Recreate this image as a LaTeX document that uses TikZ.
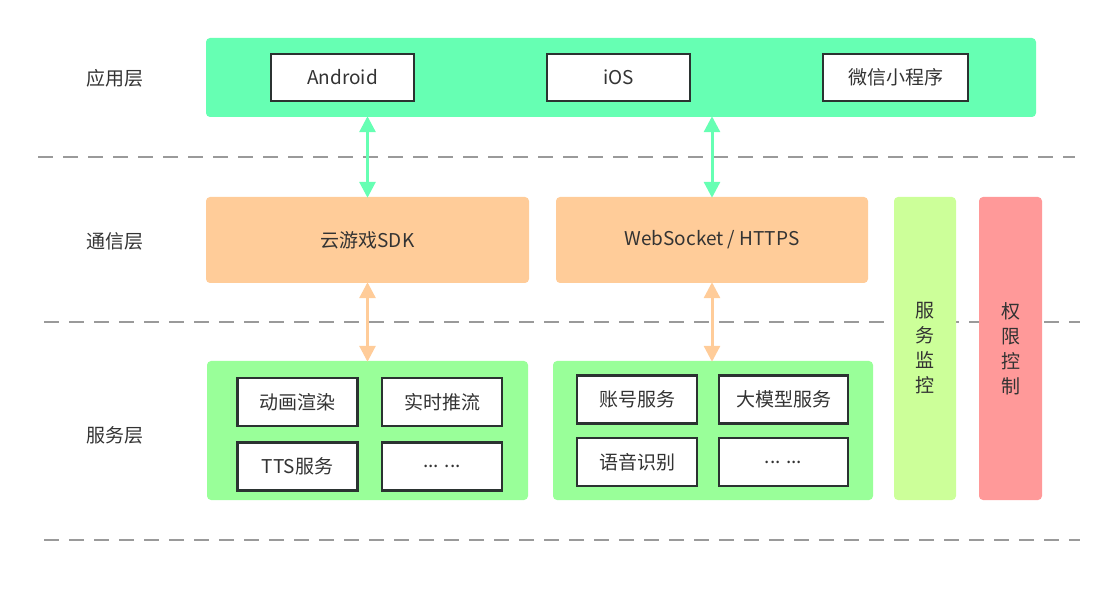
\documentclass[tikz,border=0pt]{standalone}
\usepackage{fontspec}
\setmainfont{Noto Sans CJK SC}
\usepackage{xcolor}
\usepackage{tikz}
\usetikzlibrary{arrows.meta}

\definecolor{appgreen}{HTML}{66FFB3}
\definecolor{commpeach}{HTML}{FFCC99}
\definecolor{svcgreen}{HTML}{99FF99}
\definecolor{monlime}{HTML}{CCFF99}
\definecolor{authred}{HTML}{FF9999}
\definecolor{boxline}{HTML}{2B3331}
\definecolor{txtgray}{HTML}{333333}
\definecolor{dashgray}{HTML}{9A9A9A}

\tikzset{
  layer/.style={rounded corners=4pt, inner sep=0pt, text=txtgray},
  item/.style={draw=boxline, line width=2.8pt, fill=white, inner sep=0pt, text=txtgray},
  sep/.style={draw=dashgray, line width=2pt, dash pattern=on 15pt off 10pt},
  link/.style={line width=3pt, {Triangle[width=16pt,length=16pt]}-{Triangle[width=16pt,length=16pt]}, shorten <=-1pt, shorten >=-1pt}
}

\begin{document}
\begin{tikzpicture}[x=1pt, y=-1pt, font=\fontsize{19}{25}\selectfont]
\useasboundingbox (0,0) rectangle (1117,593);

\newcommand{\Itemw}{120pt}; % service box width
\newcommand{\Itemh}{48pt}; % service box height

% dashed separators
\coordinate (SepAL) at (38, 157);
\coordinate (SepAR) at (1075, 157);
\coordinate (SepBL) at (44, 322);
\coordinate (SepBR) at (1080, 322);
\coordinate (SepCL) at (44, 540);
\coordinate (SepCR) at (1080, 540);
\draw[sep] (SepAL) -- (SepAR);
\draw[sep] (SepBL) -- (SepBR);
\draw[sep] (SepCL) -- (SepCR);

% layer names
\node[text=txtgray] (NameApp)  at (115, 78)  {应用层};
\node[text=txtgray] (NameComm) at (115, 241) {通信层};
\node[text=txtgray] (NameSvc)  at (115, 435) {服务层};

% application layer
\node[layer, fill=appgreen, minimum width=830pt, minimum height=79pt] (App) at (621, 77.5) {};
\node[item, minimum width=143pt, minimum height=47pt] (Android) at (342.5, 77.5) {Android};
\node[item, minimum width=143pt, minimum height=47pt] (IOS)     at (618.5, 77.5) {iOS};
\node[item, minimum width=145pt, minimum height=47pt] (WeChat)  at (895.5, 77.5) {微信小程序};

% communication layer
\node[layer, fill=commpeach, minimum width=323pt, minimum height=86pt] (SDK) at (367.5, 240) {云游戏SDK};
\node[layer, fill=commpeach, minimum width=312pt, minimum height=86pt] (WS)  at (712, 240) {WebSocket / HTTPS};

% side bars
\node[layer, fill=monlime, minimum width=62pt, minimum height=303pt, align=center] (Monitor) at (925, 348.5) {服\\务\\监\\控};
\node[layer, fill=authred, minimum width=63pt, minimum height=303pt, align=center] (Auth) at (1010.5, 348.5) {权\\限\\控\\制};

% service layer
\node[layer, fill=svcgreen, minimum width=321pt, minimum height=139pt] (GrpA) at (367.5, 430.5) {};
\node[layer, fill=svcgreen, minimum width=320pt, minimum height=139pt] (GrpB) at (713, 430.5) {};

\node[item, minimum width=\Itemw, minimum height=\Itemh] (Render) at (297.5, 402)   {动画渲染};
\node[item, minimum width=\Itemw, minimum height=\Itemh] (Stream) at (442, 402)     {实时推流};
\node[item, minimum width=\Itemw, minimum height=\Itemh] (TTS)    at (297.5, 466.5) {TTS服务};
\node[item, minimum width=\Itemw, minimum height=\Itemh] (MoreA)  at (442, 466.5)   {... ...};

\node[item, minimum width=\Itemw, minimum height=\Itemh] (Account) at (637, 399.5)   {账号服务};
\node[item, minimum width=129pt, minimum height=\Itemh]  (LLM)     at (783.5, 399.5) {大模型服务};
\node[item, minimum width=\Itemw, minimum height=\Itemh] (ASR)     at (637, 462)     {语音识别};
\node[item, minimum width=129pt, minimum height=\Itemh]  (MoreB)   at (783.5, 462)   {... ...};

% links
\draw[link, appgreen] (SDK.north |- App.south) -- (SDK.north);
\draw[link, appgreen] (WS.north |- App.south) -- (WS.north);
\draw[link, commpeach] (SDK.south) -- (SDK.south |- GrpA.north);
\draw[link, commpeach] (WS.south) -- (WS.south |- GrpB.north);
\end{tikzpicture}
\end{document}
